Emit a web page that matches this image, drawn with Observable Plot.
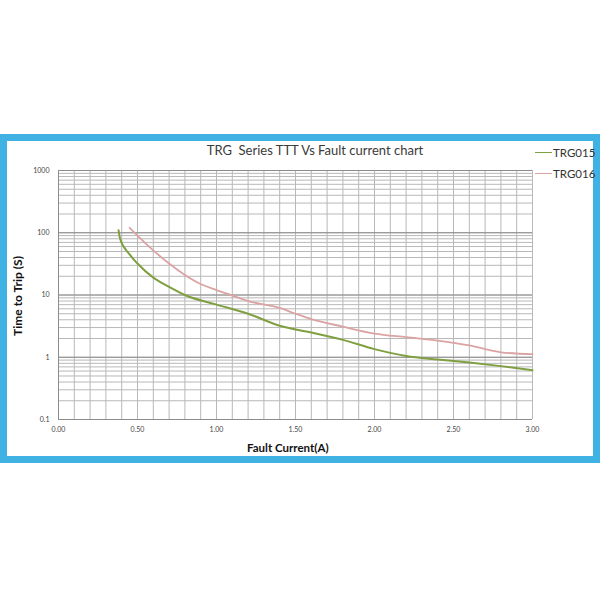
<!DOCTYPE html>
<html>
<head>
<meta charset="utf-8">
<script src="https://cdn.jsdelivr.net/npm/d3@7"></script>
<script src="https://cdn.jsdelivr.net/npm/@observablehq/plot@0.6"></script>
<style>
  html, body { margin: 0; padding: 0; background: #fff; }
  #wrap { position: relative; width: 600px; height: 600px; overflow: hidden; font-family: Lato, "Open Sans", sans-serif; }
  #frame { position: absolute; left: 0; top: 134px; width: 586px; height: 315px; border: 7px solid #3fb1e3; }
  #chart { position: absolute; left: 0; top: 0; }
  .txt { position: absolute; white-space: nowrap; color: #222; }
  #title { left: 0; width: 630px; top: 142px; text-align: center; font-size: 13px; color: #3a3a3a; }
  #xlabel { left: 247px; top: 441px; font-size: 11.5px; font-weight: bold; color: #111; }
  #ylabel { left: 17px; top: 296px; font-size: 12px; font-weight: bold; color: #111; transform: translate(-50%, -50%) rotate(-90deg); }
  .leg { position: absolute; left: 535px; font-size: 11.5px; color: #333; display: flex; align-items: center; }
  .leg span.sw { display: inline-block; width: 17px; height: 1.5px; margin-right: 1px; }
</style>
</head>
<body>
<div id="wrap">
  <div id="frame"></div>
  <div id="chart"></div>
  <div class="txt" id="title">TRG&nbsp; Series TTT Vs Fault current chart</div>
  <div class="txt" id="xlabel">Fault Current(A)</div>
  <div class="txt" id="ylabel">Time to Trip (S)</div>
  <div class="leg" style="top:146px"><span class="sw" style="background:#7f9f40"></span>TRG015</div>
  <div class="leg" style="top:167px"><span class="sw" style="background:#dba3a3"></span>TRG016</div>
</div>
<script>
// Data
const trg015Current = [0.38, 0.39, 0.45, 0.50, 0.60, 0.70, 0.80, 1.00, 1.20, 1.40, 1.60, 1.80, 2.00, 2.20, 2.40, 2.60, 2.80, 3.00];
const trg015Time    = [110,  80,   45,   32,   19,   13.5, 10,   7,    5,    3.2,  2.5,  1.9,  1.35, 1.05, 0.92, 0.82, 0.72, 0.62];
const trg016Current = [0.45, 0.50, 0.60, 0.70, 0.80, 0.90, 1.00, 1.10, 1.20, 1.40, 1.50, 1.60, 1.80, 2.00, 2.20, 2.40, 2.60, 2.80, 3.00];
const trg016Time    = [120,  90,   52,   32,   21,   15,   12,   9.8,  8,    6.2,  5,    4.1,  3.1,  2.4,  2.1,  1.85, 1.55, 1.2,  1.12];
const xTickLabels = [0, 0.5, 1, 1.5, 2, 2.5, 3];
const yTickLabels = [0.1, 1, 10, 100, 1000];
const xGridLines = [0,0.1,0.2,0.3,0.4,0.5,0.6,0.7,0.8,0.9,1,1.1,1.2,1.3,1.4,1.5,1.6,1.7,1.8,1.9,2,2.1,2.2,2.3,2.4,2.5,2.6,2.7,2.8,2.9,3];
const yGridLines = [];
for (const dec of [0.1, 1, 10, 100]) for (let m = 1; m <= 9; m++) yGridLines.push(+(m * dec).toPrecision(3));
yGridLines.push(1000);

const s015 = trg015Current.map((c, i) => ({c, t: trg015Time[i]}));
const s016 = trg016Current.map((c, i) => ({c, t: trg016Time[i]}));

const chart = Plot.plot({
  width: 600,
  height: 600,
  marginLeft: 58,
  marginRight: 68,
  marginTop: 170,
  marginBottom: 181,
  style: {background: "transparent", fontFamily: "Lato, 'Open Sans', sans-serif"},
  x: {domain: [0, 3]},
  y: {type: "log", domain: [0.1, 1000]},
  marks: [
    Plot.ruleX(xGridLines, {x: d => d, stroke: "#b8b8b8", strokeWidth: 1}),
    Plot.ruleY(yGridLines, {y: d => d, stroke: "#b8b8b8", strokeWidth: 1}),
    Plot.ruleY(yTickLabels, {y: d => d, stroke: "#8c8c8c", strokeWidth: 1}),
    Plot.ruleX([0], {stroke: "#8c8c8c"}),
    Plot.ruleY([0.1], {stroke: "#8c8c8c"}),
    Plot.axisX({ticks: xTickLabels, tickFormat: d3.format(".2f"), tickSize: 0, tickPadding: 8, fontSize: 7, color: "#444", label: null}),
    Plot.axisY({ticks: yTickLabels, tickFormat: d => String(d), tickSize: 0, tickPadding: 9, fontSize: 7, color: "#444", label: null}),
    Plot.line(s016, {x: "c", y: "t", stroke: "#dba3a3", strokeWidth: 1.8, curve: "monotone-x"}),
    Plot.line(s015, {x: "c", y: "t", stroke: "#7f9f40", strokeWidth: 2, curve: "monotone-x"})
  ]
});
document.getElementById("chart").appendChild(chart);
</script>
</body>
</html>
